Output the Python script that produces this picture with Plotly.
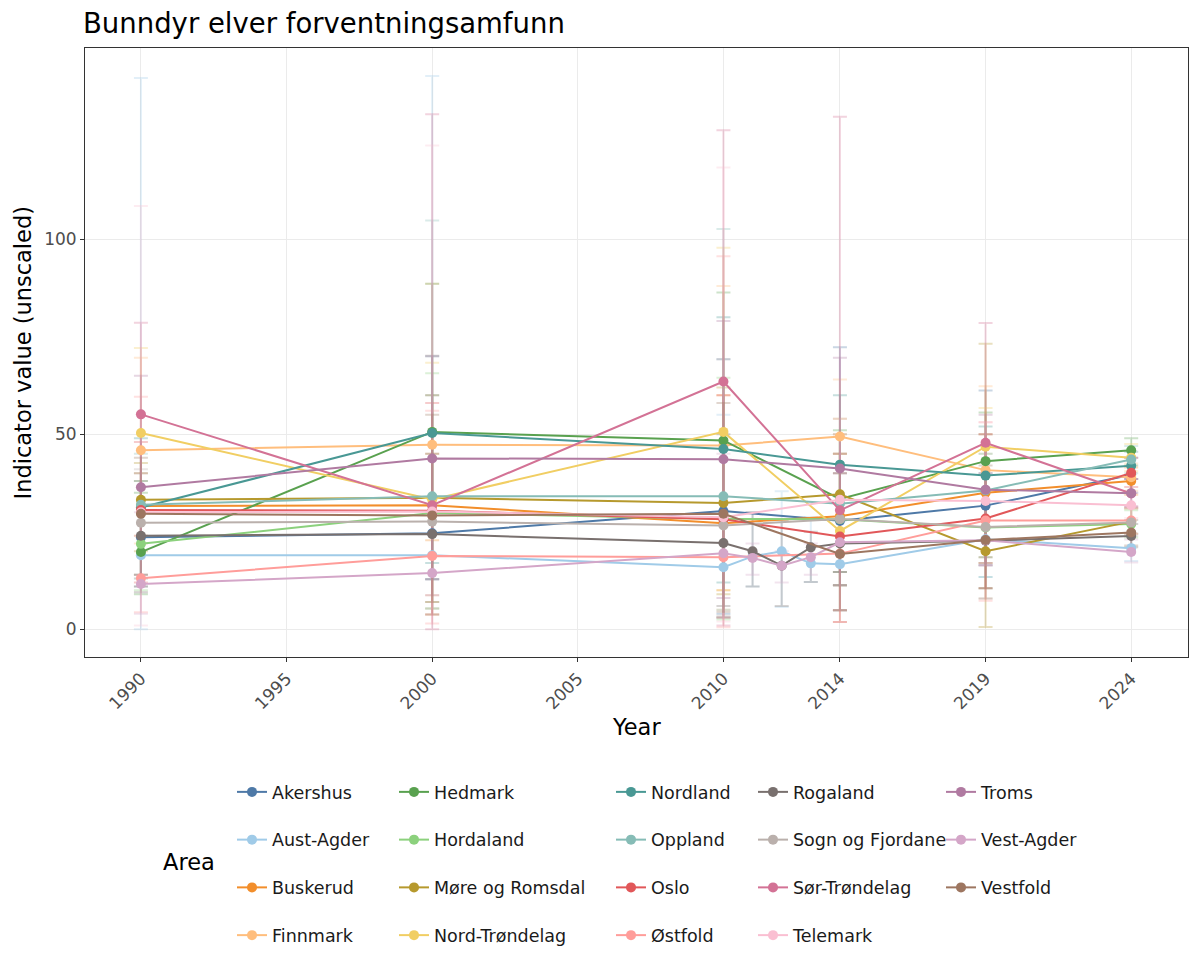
import plotly.graph_objects as go

years = [1990, 2000, 2010, 2011, 2012, 2013, 2014, 2019, 2024]

areas = ["Akershus", "Aust-Agder", "Buskerud", "Finnmark", "Hedmark", "Hordaland",
         "Møre og Romsdal", "Nord-Trøndelag", "Nordland", "Oppland", "Oslo", "Østfold",
         "Rogaland", "Sogn og Fjordane", "Sør-Trøndelag", "Telemark", "Troms",
         "Vest-Agder", "Vestfold"]

colors = ["#4E79A7", "#A0CBE8", "#F28E2B", "#FFBE7D", "#59A14F", "#8CD17D",
          "#B6992D", "#F1CE63", "#499894", "#86BCB6", "#E15759", "#FF9D9A",
          "#79706E", "#BAB0AC", "#D37295", "#FABFD2", "#B07AA1", "#D4A6C8", "#9D7660"]

N = None
values = {
    "Akershus":         [23.6, 24.6, 30.3, N, N, N, 27.8, 31.7, 39.6],
    "Aust-Agder":       [19.0, 19.0, 15.9, 18.7, 20.0, 16.9, 16.7, 23.1, 20.8],
    "Buskerud":         [31.6, 31.8, 27.2, N, N, N, 29.0, 35.0, 38.0],
    "Finnmark":         [45.9, 47.3, 47.1, N, N, N, 49.4, 40.8, 39.0],
    "Hedmark":          [19.8, 50.6, 48.4, N, N, N, 33.4, 43.1, 45.9],
    "Hordaland":        [21.9, 29.8, 28.3, N, N, N, 28.2, 26.1, 27.0],
    "Møre og Romsdal":  [33.2, 33.7, 32.4, N, N, N, 34.6, 20.0, 27.6],
    "Nord-Trøndelag":   [50.3, 33.3, 50.6, N, N, N, 25.2, 46.8, 44.0],
    "Nordland":         [31.2, 50.3, 46.2, N, N, N, 42.2, 39.4, 41.9],
    "Oppland":          [31.9, 34.1, 34.1, N, N, N, 32.2, 35.6, 43.5],
    "Oslo":             [30.6, 30.4, 28.2, N, N, N, 23.8, 28.4, 40.1],
    "Østfold":          [13.1, 18.8, 18.5, N, N, N, 19.4, 27.9, 27.9],
    "Rogaland":         [24.0, 24.4, 22.1, 20.0, 16.3, 21.0, 22.0, 22.7, 23.9],
    "Sogn og Fjordane": [27.3, 27.6, 26.6, N, N, N, 28.3, 26.2, 27.4],
    "Sør-Trøndelag":    [55.1, 31.8, 63.5, N, N, N, 30.5, 47.8, 34.8],
    "Telemark":         [30.0, 30.2, 28.7, N, N, N, 33.2, 32.9, 31.8],
    "Troms":            [36.4, 43.8, 43.6, N, N, N, 41.2, 35.8, 34.9],
    "Vest-Agder":       [11.6, 14.4, 19.5, 18.3, 16.3, 18.5, 22.3, 22.8, 19.8],
    "Vestfold":         [29.6, 29.2, 29.6, N, N, N, 19.3, 22.9, 24.8],
}

lower = {
    "Akershus":         [11.0, 12.8, 4.0, N, N, N, 11.3, 16.4, 35.0],
    "Aust-Agder":       [0.0, 7.0, 3.0, 11.0, 5.7, 12.1, 4.9, 13.4, 17.5],
    "Buskerud":         [14.0, 22.8, 10.0, N, N, N, 14.7, 18.5, 34.5],
    "Finnmark":         [22.0, 8.7, 5.0, N, N, N, 11.3, 17.0, 35.5],
    "Hedmark":          [9.0, 5.3, 3.0, N, N, N, 4.9, 10.5, 42.0],
    "Hordaland":        [10.0, 5.3, 2.5, N, N, N, 14.7, 7.9, 23.5],
    "Møre og Romsdal":  [20.0, 3.8, 9.0, N, N, N, 11.3, 0.6, 24.5],
    "Nord-Trøndelag":   [24.0, 7.0, 10.0, N, N, N, 1.9, 17.0, 40.5],
    "Nordland":         [14.0, 17.0, 12.0, N, N, N, 14.7, 18.5, 38.5],
    "Oppland":          [13.0, 12.8, 5.0, N, N, N, 11.3, 13.4, 40.0],
    "Oslo":             [12.0, 3.8, 3.0, N, N, N, 4.9, 10.5, 36.5],
    "Østfold":          [4.4, 1.5, 0.5, N, N, N, 1.9, 7.3, 24.5],
    "Rogaland":         [9.5, 12.8, 6.0, 11.0, 6.0, 12.1, 11.3, 16.4, 21.0],
    "Sogn og Fjordane": [13.0, 3.8, 3.5, N, N, N, 4.9, 17.0, 24.0],
    "Sør-Trøndelag":    [24.0, 0.0, 1.0, N, N, N, 1.9, 7.9, 31.5],
    "Telemark":         [1.0, 5.3, 2.0, N, N, N, 4.9, 16.4, 28.5],
    "Troms":            [14.0, 8.7, 8.0, N, N, N, 14.7, 17.0, 31.5],
    "Vest-Agder":       [4.0, 12.8, 3.0, 14.0, 12.0, 14.0, 11.3, 16.4, 17.1],
    "Vestfold":         [11.0, 7.0, 4.5, N, N, N, 4.9, 10.5, 21.5],
}

upper = {
    "Akershus":         [40.0, 60.0, 69.2, N, N, N, 72.3, 61.2, 44.0],
    "Aust-Agder":       [141.3, 141.8, 55.0, 30.0, 35.4, 28.8, 34.0, 40.0, 24.5],
    "Buskerud":         [40.0, 45.0, 60.0, N, N, N, 45.0, 50.0, 41.5],
    "Finnmark":         [69.6, 88.6, 88.0, N, N, N, 64.0, 62.3, 42.5],
    "Hedmark":          [35.0, 88.6, 86.3, N, N, N, 51.0, 55.6, 49.0],
    "Hordaland":        [38.0, 65.6, 64.5, N, N, N, 45.0, 45.0, 30.5],
    "Møre og Romsdal":  [42.6, 60.0, 62.0, N, N, N, 54.0, 73.2, 31.0],
    "Nord-Trøndelag":   [72.1, 68.3, 97.8, N, N, N, 50.0, 56.7, 47.5],
    "Nordland":         [49.0, 70.0, 80.0, N, N, N, 60.0, 52.0, 45.5],
    "Oppland":          [45.0, 104.8, 102.6, N, N, N, 50.0, 50.0, 47.0],
    "Oslo":             [48.0, 58.0, 60.0, N, N, N, 45.0, 50.0, 44.0],
    "Østfold":          [59.6, 56.0, 95.6, N, N, N, 50.0, 53.1, 31.0],
    "Rogaland":         [38.0, 45.0, 50.0, 30.0, 28.0, 25.0, 40.0, 40.0, 27.0],
    "Sogn og Fjordane": [41.0, 70.2, 69.2, N, N, N, 45.0, 45.0, 31.0],
    "Sør-Trøndelag":    [78.6, 132.0, 127.9, N, N, N, 131.4, 78.5, 38.5],
    "Telemark":         [108.5, 124.0, 118.4, N, N, N, 54.0, 53.1, 35.0],
    "Troms":            [65.0, 70.0, 79.0, N, N, N, 69.6, 55.0, 38.5],
    "Vest-Agder":       [30.0, 30.0, 45.0, 22.0, 20.0, 22.0, 40.0, 40.0, 23.0],
    "Vestfold":         [44.0, 55.0, 58.0, N, N, N, 40.0, 42.0, 28.0],
}

x_ticks = [1990, 1995, 2000, 2005, 2010, 2014, 2019, 2024]
y_ticks = [0, 50, 100]


def rgba(hex_color, a):
    h = hex_color.lstrip("#")
    r, g, b = int(h[0:2], 16), int(h[2:4], 16), int(h[4:6], 16)
    return f"rgba({r},{g},{b},{a})"


fig = go.Figure()

# error bars layer (drawn first)
for area, col in zip(areas, colors):
    xs, ys, ep, em = [], [], [], []
    for yr, v, lo, hi in zip(years, values[area], lower[area], upper[area]):
        if v is None:
            continue
        xs.append(yr)
        ys.append(v)
        ep.append(hi - v)
        em.append(v - lo)
    fig.add_trace(go.Scatter(
        x=xs, y=ys, mode="markers", marker=dict(size=1, opacity=0),
        error_y=dict(type="data", array=ep, arrayminus=em, symmetric=False,
                     color=rgba(col, 0.3), thickness=2, width=7),
        showlegend=False, hoverinfo="skip"))

legend_cols = [areas[0:4], areas[4:8], areas[8:12], areas[12:16], areas[16:19]]
legend_names = ["legend", "legend2", "legend3", "legend4", "legend5"]
area_legend = {}
for lname, group in zip(legend_names, legend_cols):
    for a in group:
        area_legend[a] = lname

# lines + points
for area, col in zip(areas, colors):
    xs = [yr for yr, v in zip(years, values[area]) if v is not None]
    ys = [v for v in values[area] if v is not None]
    fig.add_trace(go.Scatter(
        x=xs, y=ys, mode="lines+markers", name=area,
        line=dict(color=col, width=2),
        marker=dict(color=col, size=10),
        legend=area_legend[area], legendgroup=area))

font_family = "DejaVu Sans"
legend_x_px = [224, 386, 603, 745, 933]
legend_common = dict(orientation="v", xref="container", yref="container",
                     xanchor="left", yanchor="top", y=1 - 766 / 975,
                     font=dict(size=17.5, color="#1a1a1a", family=font_family),
                     tracegroupgap=22, bgcolor="rgba(0,0,0,0)")

layout_legends = {}
for lname, xp in zip(legend_names, legend_x_px):
    layout_legends[lname] = dict(legend_common, x=xp / 1200)

PW, PH = 1103, 609  # plot area size in px

fig.update_layout(
    width=1200, height=975,
    paper_bgcolor="white", plot_bgcolor="white",
    margin=dict(l=77, r=20, t=40, b=326, autoexpand=False),
    font=dict(family=font_family, color="#1a1a1a"),
    title=dict(text="Bunndyr elver forventningsamfunn", x=75 / 1200, xanchor="left",
               xref="container", yref="container", y=1 - 15 / 975, yanchor="middle",
               font=dict(size=27.5, color="black", family=font_family)),
    xaxis=dict(range=[1988.08, 2025.95], tickvals=x_ticks, ticktext=[str(t) for t in x_ticks],
               tickangle=-45, showgrid=True, gridcolor="#EBEBEB", gridwidth=1.2,
               zeroline=False, showline=True, mirror=True, linecolor="#333333", linewidth=1,
               ticks="outside", ticklen=4, tickcolor="#333333",
               tickfont=dict(size=17, color="#4D4D4D")),
    yaxis=dict(range=[-7.1, 149.0], tickvals=y_ticks, showgrid=True, gridcolor="#EBEBEB",
               gridwidth=1.2, zeroline=False, showline=True, mirror=True,
               linecolor="#333333", linewidth=1, ticks="outside", ticklen=4,
               tickcolor="#333333", tickfont=dict(size=17, color="#4D4D4D")),
    **layout_legends,
)

fig.add_annotation(text="Year", xref="paper", yref="paper", x=(636 - 85) / PW,
                   y=-(727 - 657) / PH, xanchor="center", yanchor="middle", showarrow=False,
                   font=dict(size=22.5, color="black", family=font_family))
fig.add_annotation(text="Indicator value (unscaled)", xref="paper", yref="paper",
                   x=-(85 - 22) / PW, y=0.5, xanchor="center", yanchor="middle",
                   textangle=-90, showarrow=False,
                   font=dict(size=22.5, color="black", family=font_family))
fig.add_annotation(text="Area", xref="paper", yref="paper", x=(161 - 85) / PW,
                   y=-(862 - 657) / PH, xanchor="left", yanchor="middle", showarrow=False,
                   font=dict(size=22.5, color="black", family=font_family))

fig.write_html("out.html")
